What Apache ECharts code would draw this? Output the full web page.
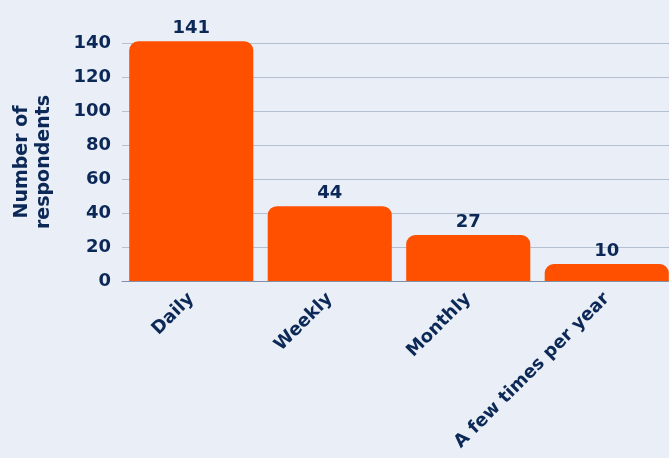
<!DOCTYPE html>
<html><head><meta charset="utf-8">
<script src="https://cdn.jsdelivr.net/npm/echarts@6/dist/echarts.min.js"></script>
<style>html,body{margin:0;padding:0;background:#eaeff7;overflow:hidden;width:669px;height:458px}#c{width:680px;height:458px}</style>
</head><body><div id="c"></div>
<script>
const categories = ["Daily", "Weekly", "Monthly", "A few times per year"];
const values = [141, 44, 27, 10];
const yTicks = [0, 20, 40, 60, 80, 100, 120, 140];

const navy = "#0c2857";
const font = "DejaVu Sans";
const chart = echarts.init(document.getElementById('c'));
chart.setOption({
  backgroundColor: "#eaeff7",
  animation: false,
  grid: { left: 122, right: 4, top: 43, bottom: 177 },
  xAxis: {
    type: 'category', data: categories,
    axisLine: { lineStyle: { color: "#7f90a8", width: 1 } },
    axisTick: { show: false },
    axisLabel: { rotate: 45, color: navy, fontFamily: font, fontWeight: 'bold', fontSize: 18, margin: 15, interval: 0 }
  },
  yAxis: {
    type: 'value', min: 0, max: yTicks[yTicks.length - 1], interval: 20,
    name: "Number of\nrespondents", nameLocation: 'middle', nameGap: 67, nameRotate: 90,
    nameTextStyle: { color: navy, fontFamily: font, fontWeight: 'bold', fontSize: 19, lineHeight: 22 },
    axisLabel: { color: navy, fontFamily: font, fontWeight: 'bold', fontSize: 18, margin: 11 },
    splitLine: { lineStyle: { color: "#b4bfcf", width: 1 } },
    axisLine: { show: false }, axisTick: { show: false }
  },
  series: [{
    type: 'bar', data: values, clip: false,
    barCategoryGap: '10.4%',
    itemStyle: { color: "#ff5000", borderRadius: [9, 9, 0, 0] },
    label: { show: true, position: 'top', distance: 4, color: navy, fontFamily: font, fontWeight: 'bold', fontSize: 18 }
  }]
});
</script></body></html>
